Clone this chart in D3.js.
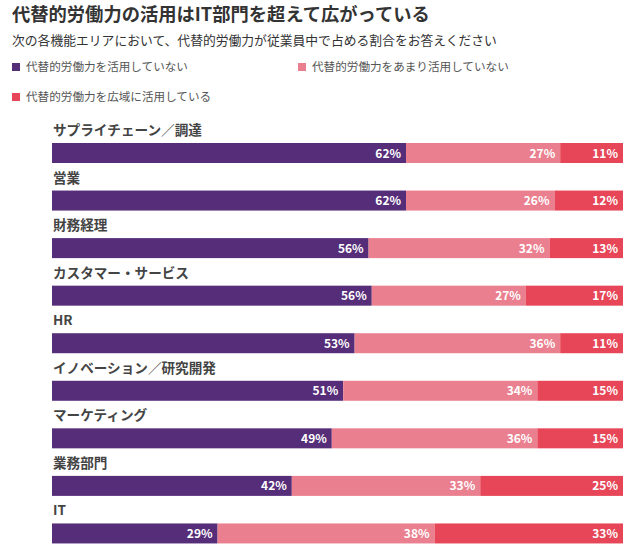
<!DOCTYPE html>
<html><head><meta charset="utf-8">
<script src="https://cdn.jsdelivr.net/npm/d3@7"></script>
<style>body{margin:0;background:#fff;font-family:"Noto Sans CJK JP","Noto Sans",sans-serif;}</style>
</head><body><svg id="c" width="640" height="551"></svg>
<script>
const categories = ["サプライチェーン／調達","営業","財務経理","カスタマー・サービス","HR","イノベーション／研究開発","マーケティング","業務部門","IT"];
const notUsed = [62,62,56,56,53,51,49,42,29];
const rarelyUsed = [27,26,32,27,36,34,36,33,38];
const widelyUsed = [11,12,13,17,11,15,15,25,33];
const seriesNames = ["代替的労働力を活用していない","代替的労働力をあまり活用していない","代替的労働力を広域に活用している"];
const colors = ["#562d79","#ea808f","#e64657"];

const svg = d3.select("#c");
const font = '"Noto Sans CJK JP","Noto Sans",sans-serif';

svg.append("text").attr("x",12).attr("y",21).attr("font-size",18.3).attr("font-weight","bold").attr("fill","#333").attr("font-family",font).text("代替的労働力の活用はIT部門を超えて広がっている");
svg.append("text").attr("x",12).attr("y",45).attr("font-size",12.8).attr("fill","#333").attr("font-family",font).text("次の各機能エリアにおいて、代替的労働力が従業員中で占める割合をお答えください");

const legendPos = [[12,67],[298,67],[12,97]];
seriesNames.forEach((n,i)=>{
  const g = svg.append("g").attr("transform",`translate(${legendPos[i][0]},${legendPos[i][1]})`);
  g.append("rect").attr("x",0).attr("y",-4).attr("width",8).attr("height",8).attr("fill",colors[i]);
  g.append("text").attr("x",14).attr("y",4).attr("font-size",11.6).attr("fill","#555").attr("font-family",font).text(n);
});

const rows = categories.map((c,i)=>({cat:c, vals:[notUsed[i],rarelyUsed[i],widelyUsed[i]]}));
const y = d3.scaleBand().domain(categories).range([121,549]).paddingInner(0).paddingOuter(0);
const x = d3.scaleLinear().domain([0,1]).range([52,623]);
const barH = 20;

rows.forEach(r=>{
  const g = svg.append("g").attr("transform",`translate(0,${y(r.cat)})`);
  g.append("text").attr("x",53).attr("y",14).attr("font-size",13.6).attr("font-weight","bold").attr("fill","#444").attr("font-family",font).text(r.cat);
  const total = d3.sum(r.vals);
  let acc = 0;
  r.vals.forEach((v,j)=>{
    const x0 = x(acc/total), x1 = x((acc+v)/total);
    g.append("rect").attr("x",x0).attr("y",22).attr("width",x1-x0).attr("height",barH).attr("fill",colors[j]);
    g.append("text").attr("x",x1-5).attr("y",22+barH/2+4.5).attr("text-anchor","end").attr("font-size",12).attr("font-weight","bold").attr("fill","#fff").attr("font-family",font).text(v+"%");
    acc += v;
  });
});
</script></body></html>
